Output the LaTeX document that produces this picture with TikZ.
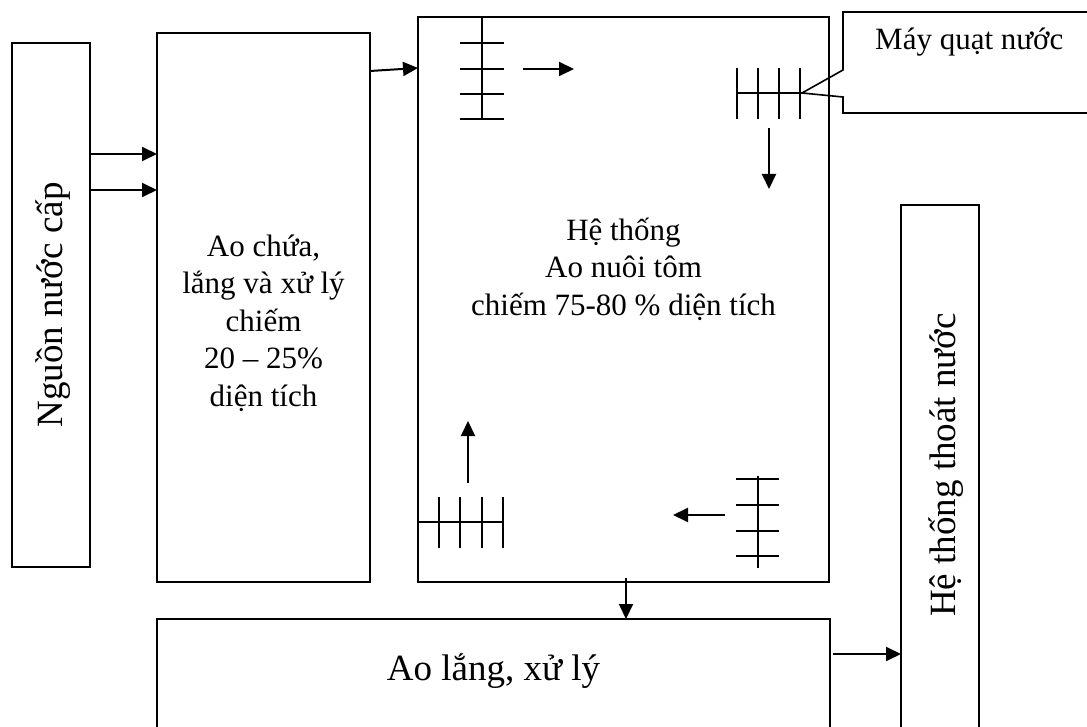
\documentclass[tikz,border=0pt]{standalone}
\usepackage{fontspec}
\setmainfont{Liberation Serif}
\usetikzlibrary{arrows.meta}
\tikzset{
  box/.style={draw, line width=2pt, inner sep=0pt, outer sep=0pt},
  arr/.style={line width=2pt, -{Triangle[length=15pt,width=14pt]}},
  fan/.style={line width=2pt},
  txt/.style={font=\fontsize{31}{37.5}\selectfont, align=center, inner sep=0pt},
  bigtxt/.style={font=\fontsize{37}{44}\selectfont, inner sep=0pt},
}
\begin{document}
\begin{tikzpicture}[x=1pt,y=-1pt]
\clip (0,0) rectangle (1087,727);
\fill[white] (0,0) rectangle (1087,727);
% boxes
\node[box, minimum width=78pt, minimum height=524pt] (src) at (51,305) {};
\node[bigtxt, rotate=90] at (53,305) {Nguồn nước cấp};
\node[box, minimum width=213pt, minimum height=549pt] (ao) at (263.5,307.5) {};
\node[txt] at (263.5,323) {Ao chứa,\\lắng và xử lý\\chiếm\\20 – 25\%\\diện tích};
\node[box, minimum width=411pt, minimum height=565pt] (pond) at (623.5,299.5) {};
\node[txt] at (623.5,269) {Hệ thống\\Ao nuôi tôm\\chiếm 75-80 \% diện tích};
\node[box, minimum width=673pt, minimum height=130pt, anchor=north] (settle) at (493.5,619) {};
\node[bigtxt, anchor=base] at (493.5,680) {Ao lắng, xử lý};
\node[box, minimum width=78pt, minimum height=600pt, anchor=north] (drain) at (940,205) {};
\node[bigtxt, rotate=90] at (946,465) {Hệ thống thoát nước};
% callout
\draw[line width=1.6pt] (1100,12) -- (843,12) -- (843,70) -- (802,93) -- (843,97) -- (843,113) -- (1100,113);
\node[txt, anchor=base west] (callout) at (875,50) {Máy quạt nước};
% connectors
\coordinate (y154) at (0,154);
\coordinate (y190) at (0,190);
\coordinate (y654) at (0,654);
\draw[arr] (src.east |- y154) -- (ao.west |- y154);
\draw[arr] (src.east |- y190) -- (ao.west |- y190);
\coordinate (aoOut) at (370,71);
\coordinate (pondIn) at (418,68);
\draw[arr] (aoOut) -- (pondIn);
\coordinate (pondOut) at (626,578);
\draw[arr] (pondOut) -- (settle.north -| pondOut);
\coordinate (settleOut) at (833,654);
\draw[arr] (settleOut) -- (drain.west |- y654);
% aerator top-left
\draw[fan] (482,17) -- (482,119);
\foreach \y in {43,69,94,119} \draw[fan] (460,\y) -- (504,\y);
\coordinate (a1s) at (523,69); \coordinate (a1e) at (574,69);
\draw[arr] (a1s) -- (a1e);
% aerator top-right
\draw[line width=1.6pt] (736,93) -- (802,93);
\foreach \x in {737,758,779,800} \draw[fan] (\x,68) -- (\x,119);
\coordinate (a2s) at (769,128); \coordinate (a2e) at (769,189);
\draw[arr] (a2s) -- (a2e);
% aerator bottom-left
\draw[line width=1.6pt] (418,522) -- (503,522);
\foreach \x in {439,460,482,503} \draw[fan] (\x,497) -- (\x,548);
\coordinate (a3s) at (468,483); \coordinate (a3e) at (468,421);
\draw[arr] (a3s) -- (a3e);
% aerator bottom-right
\draw[fan] (758,476) -- (758,568);
\foreach \y in {479,505,531,556} \draw[fan] (736,\y) -- (779,\y);
\coordinate (a4s) at (725,515); \coordinate (a4e) at (673,515);
\draw[arr] (a4s) -- (a4e);
\end{tikzpicture}
\end{document}
